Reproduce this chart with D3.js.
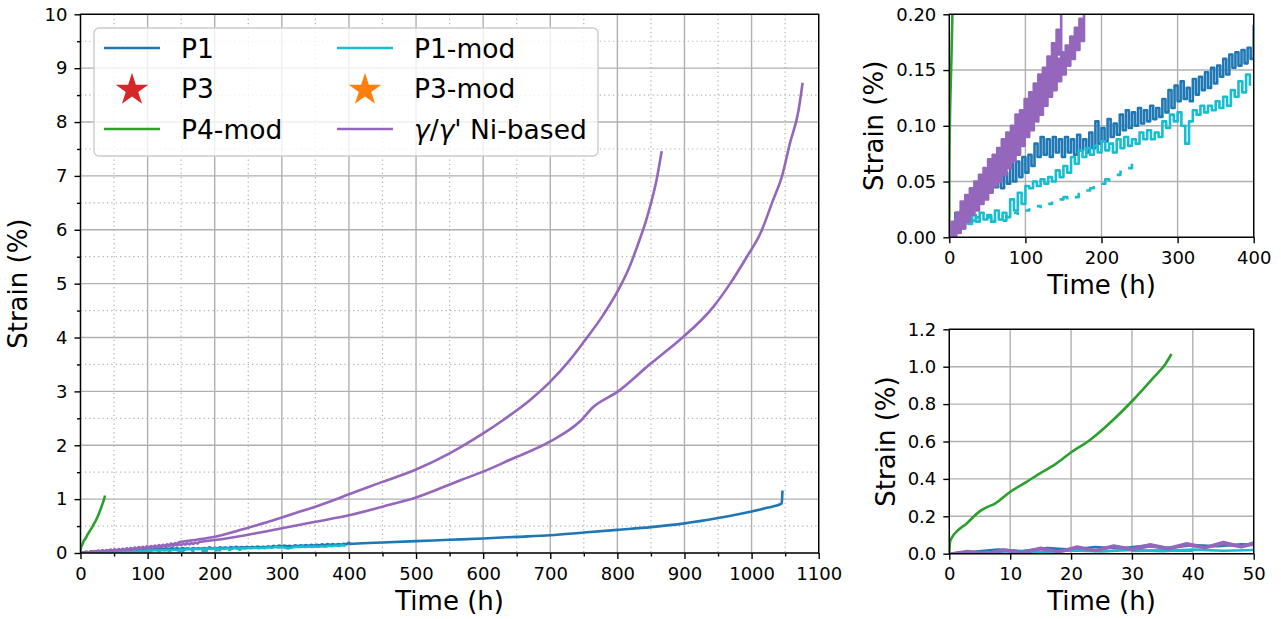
<!DOCTYPE html>
<html><head><meta charset="utf-8">
<script src="https://cdn.jsdelivr.net/npm/d3@7"></script>
<style>
body{margin:0;background:#fff}
svg{display:block}
text{font-family:"DejaVu Sans",sans-serif;fill:#000}
</style>
</head><body>
<svg id="c" width="1281" height="619"></svg>
<script>
// ---------------- DATA ----------------
// P1: dense part sampled every 4 h (0..396), then sparse points
const p1DenseStep = 4;
const p1Dense = [0.000,0.010,0.022,0.014,0.030,0.022,0.036,0.028,0.042,0.032,
  0.046,0.040,0.050,0.044,0.051,0.045,0.056,0.044,0.058,0.048,
  0.066,0.050,0.068,0.054,0.072,0.058,0.074,0.064,0.084,0.072,
  0.090,0.074,0.088,0.072,0.090,0.076,0.088,0.072,0.090,0.076,
  0.088,0.074,0.092,0.078,0.088,0.076,0.094,0.080,0.104,0.084,
  0.098,0.086,0.106,0.090,0.102,0.092,0.110,0.096,0.114,0.098,
  0.112,0.100,0.116,0.102,0.114,0.104,0.118,0.106,0.116,0.108,
  0.124,0.112,0.132,0.116,0.136,0.122,0.140,0.124,0.134,0.122,
  0.142,0.128,0.144,0.132,0.148,0.134,0.152,0.138,0.154,0.144,
  0.160,0.146,0.164,0.152,0.166,0.154,0.168,0.156,0.170,0.160];
const p1SparseT = [400,401,420,450,500,550,600,650,700,750,800,850,900,950,1000,1020,1045,1046];
const p1SparseS = [0.190,0.170,0.180,0.195,0.220,0.245,0.270,0.300,0.330,0.380,0.430,0.480,0.550,0.650,0.770,0.830,0.920,1.160];

// P1-mod test A: every 5 h (0..395)
const p1modAStep = 5;
const p1modA = [0.000,0.004,0.014,0.008,0.018,0.012,0.020,0.014,0.022,0.016,
  0.020,0.014,0.024,0.016,0.022,0.018,0.034,0.024,0.040,0.030,
  0.046,0.044,0.050,0.046,0.052,0.048,0.054,0.050,0.060,0.054,
  0.064,0.058,0.072,0.066,0.078,0.072,0.080,0.074,0.082,0.076,
  0.086,0.078,0.084,0.076,0.088,0.080,0.090,0.082,0.088,0.084,
  0.094,0.088,0.096,0.088,0.094,0.090,0.104,0.098,0.110,0.104,
  0.112,0.100,0.084,0.104,0.114,0.110,0.118,0.112,0.118,0.114,
  0.122,0.116,0.126,0.118,0.132,0.126,0.140,0.130,0.146,0.136];
// P1-mod test B: every 5 h (30..250), null = gap in record
const p1modBStart = 30, p1modBStep = 5;
const p1modB = [0.015,0.018,0.016,null,0.018,0.014,0.016,null,0.015,0.020,
  null,0.022,0.020,null,0.024,0.026,null,0.028,0.026,null,
  0.030,0.032,null,0.034,0.036,0.034,null,0.036,0.040,null,
  0.042,0.044,0.046,null,0.048,0.052,0.050,null,0.056,0.060,
  null,0.062,0.066,null,0.068];

// P4-mod
const p4modT = [0,0.1,0.5,0.93,2.85,5.04,6.1,7.5,9.97,12.5,14.9,17.5,19.8,23.1,26.9,30.2,33.5,35.5,36.5];
const p4modS = [0.000,0.060,0.090,0.109,0.162,0.228,0.248,0.268,0.330,0.380,0.430,0.480,0.537,0.608,0.715,0.822,0.940,1.015,1.068];

// gamma/gamma' Ni-based, test A: every 3 h (0..150), then sparse
const niAStep = 3;
const niADense = [0.000,0.014,0.002,0.022,0.008,0.032,0.012,0.038,0.018,0.044,
  0.026,0.050,0.030,0.056,0.034,0.062,0.040,0.070,0.046,0.074,
  0.052,0.080,0.058,0.088,0.064,0.094,0.070,0.100,0.080,0.110,
  0.086,0.114,0.094,0.124,0.102,0.130,0.108,0.138,0.114,0.146,
  0.124,0.152,0.132,0.162,0.140,0.174,0.150,0.186,0.164,0.204,0.210];
const niASparseT = [175,200,225,250,275,300,325,350,375,400,450,500,550,600,630,670,700,729,750,779,800,818,833,843,850,858,866];
const niASparseS = [0.25,0.30,0.38,0.47,0.56,0.66,0.76,0.86,0.97,1.09,1.32,1.55,1.85,2.22,2.47,2.84,3.18,3.58,3.92,4.42,4.85,5.31,5.81,6.18,6.49,6.90,7.46];

// gamma/gamma' Ni-based, test B: every 3 h (0..180), then sparse
const niBStep = 3;
const niBDense = [0.000,0.010,0.000,0.016,0.004,0.024,0.008,0.030,0.014,0.036,
  0.020,0.040,0.024,0.046,0.030,0.052,0.034,0.058,0.040,0.064,
  0.046,0.070,0.050,0.076,0.056,0.082,0.062,0.088,0.068,0.096,
  0.074,0.102,0.082,0.110,0.090,0.116,0.096,0.124,0.104,0.132,
  0.110,0.138,0.118,0.146,0.126,0.152,0.132,0.160,0.140,0.166,
  0.146,0.172,0.154,0.180,0.160,0.188,0.168,0.196,0.176,0.204,0.210];
const niBSparseT = [200,250,300,350,400,450,500,566,600,640,700,744,764,800,850,878,898,943,968,993,1013,1032,1045,1057,1070,1076];
const niBSparseS = [0.24,0.34,0.46,0.58,0.70,0.86,1.03,1.35,1.51,1.73,2.07,2.44,2.71,2.99,3.52,3.80,4.01,4.57,5.00,5.50,5.93,6.55,6.98,7.60,8.22,8.73];

// ticks
const mainXTicks = [0,100,200,300,400,500,600,700,800,900,1000,1100];
const mainYTicks = [0,1,2,3,4,5,6,7,8,9,10];
const mainXMinor = [50,150,250,350,450,550,650,750,850,950,1050];
const mainYMinor = [0.5,1.5,2.5,3.5,4.5,5.5,6.5,7.5,8.5,9.5];
const topXTicks = [0,100,200,300,400];
const topYTicks = [0,0.05,0.10,0.15,0.20];
const botXTicks = [0,10,20,30,40,50];
const botYTicks = [0,0.2,0.4,0.6,0.8,1.0,1.2];

const legendNames = ["P1","P3","P4-mod","P1-mod","P3-mod","γ/γ' Ni-based"];

// ---------------- build series ----------------
const C = {blue:"#1f77b4", red:"#d62728", green:"#2ca02c", cyan:"#17becf", orange:"#ff7f0e", purple:"#9467bd"};
function dense(start, step, vals){ return vals.map((v,i)=>({t:start+i*step, s:v})); }
function pairs(ts, ss){ return ts.map((t,i)=>({t:t, s:ss[i]})); }
const series = [
  {color:C.blue, noisy:true, pts: dense(0,p1DenseStep,p1Dense).concat(pairs(p1SparseT,p1SparseS))},
  {color:C.green, noisy:false, pts: pairs(p4modT,p4modS)},
  {color:C.cyan, noisy:true, pts: dense(0,p1modAStep,p1modA)},
  {color:C.cyan, noisy:true, pts: dense(p1modBStart,p1modBStep,p1modB)},
  {color:C.purple, noisy:true, pts: dense(0,niAStep,niADense).concat(pairs(niASparseT,niASparseS))},
  {color:C.purple, noisy:true, pts: dense(0,niBStep,niBDense).concat(pairs(niBSparseT,niBSparseS))}
];

const svg = d3.select('#c');
let clipId = 0;
function panel(o){
  const x = d3.scaleLinear().domain(o.xd).range([o.l,o.r]);
  const y = d3.scaleLinear().domain(o.yd).range([o.b,o.t]);
  const g = svg.append('g');
  const gridCol = "#b0b0b0";
  if(o.xMinor){
    g.selectAll(null).data(o.xMinor).join('line')
      .attr('x1',d=>x(d)).attr('x2',d=>x(d)).attr('y1',o.t).attr('y2',o.b)
      .attr('stroke',gridCol).attr('stroke-width',1.2).attr('stroke-dasharray','1.2,3.2');
    g.selectAll(null).data(o.yMinor).join('line')
      .attr('y1',d=>y(d)).attr('y2',d=>y(d)).attr('x1',o.l).attr('x2',o.r)
      .attr('stroke',gridCol).attr('stroke-width',1.2).attr('stroke-dasharray','1.2,3.2');
  }
  g.selectAll(null).data(o.xt).join('line')
    .attr('x1',d=>x(d)).attr('x2',d=>x(d)).attr('y1',o.t).attr('y2',o.b)
    .attr('stroke',gridCol).attr('stroke-width',1.4);
  g.selectAll(null).data(o.yt).join('line')
    .attr('y1',d=>y(d)).attr('y2',d=>y(d)).attr('x1',o.l).attr('x2',o.r)
    .attr('stroke',gridCol).attr('stroke-width',1.4);

  const id = 'clip'+(clipId++);
  svg.append('clipPath').attr('id',id).append('rect')
    .attr('x',o.l).attr('y',o.t).attr('width',o.r-o.l).attr('height',o.b-o.t);
  const dg = g.append('g').attr('clip-path',`url(#${id})`);
  series.forEach(sr=>{
    const curve = sr.noisy ? o.noisyCurve : d3.curveMonotoneX;
    const line = d3.line().defined(d=>d.s!==null).x(d=>x(d.t)).y(d=>y(d.s)).curve(curve);
    dg.append('path').attr('d',line(sr.pts)).attr('fill','none')
      .attr('stroke',sr.color).attr('stroke-width',2.6)
      .attr('stroke-linejoin','round').attr('stroke-linecap','butt');
  });

  // axes
  g.append('g').attr('transform',`translate(0,${o.b})`)
    .call(d3.axisBottom(x).tickValues(o.xt).tickFormat(o.xf).tickSize(6).tickPadding(8));
  g.append('g').attr('transform',`translate(${o.l},0)`)
    .call(d3.axisLeft(y).tickValues(o.yt).tickFormat(o.yf).tickSize(6).tickPadding(7));
  if(o.xMinor){
    g.append('g').attr('transform',`translate(0,${o.b})`)
      .call(d3.axisBottom(x).tickValues(o.xMinor).tickFormat('').tickSize(3.5));
    g.append('g').attr('transform',`translate(${o.l},0)`)
      .call(d3.axisLeft(y).tickValues(o.yMinor).tickFormat('').tickSize(3.5));
  }
  g.selectAll('.domain').remove();
  g.selectAll('.tick line').attr('stroke','#000').attr('stroke-width',1.4);
  g.selectAll('.tick text').attr('font-size',18).attr('font-family','"DejaVu Sans",sans-serif').attr('fill','#000');
  g.append('rect').attr('x',o.l).attr('y',o.t).attr('width',o.r-o.l).attr('height',o.b-o.t)
    .attr('fill','none').attr('stroke','#000').attr('stroke-width',1.4);
  // labels
  g.append('text').attr('x',(o.l+o.r)/2).attr('y',o.b+56.5).attr('text-anchor','middle')
    .attr('font-size',26).text('Time (h)');
  g.append('text').attr('transform',`translate(${o.ylx},${(o.t+o.b)/2}) rotate(-90)`)
    .attr('text-anchor','middle').attr('dy','0.36em').attr('font-size',26).text('Strain (%)');
  return {x,y,g};
}

panel({l:80.5,r:818.7,t:14.3,b:553,xd:[0,1100],yd:[0,10],xt:mainXTicks,yt:mainYTicks,
  xMinor:mainXMinor,yMinor:mainYMinor,xf:d3.format('d'),yf:d3.format('d'),noisyCurve:d3.curveMonotoneX,ylx:17.5});
panel({l:949.3,r:1253.7,t:14.3,b:237.3,xd:[0,400],yd:[0,0.2],xt:topXTicks,yt:topYTicks,
  xf:d3.format('d'),yf:d3.format('.2f'),noisyCurve:d3.curveStepAfter,ylx:874});
panel({l:949.3,r:1253.7,t:329.3,b:553.7,xd:[0,50],yd:[0,1.2],xt:botXTicks,yt:botYTicks,
  xf:d3.format('d'),yf:d3.format('.1f'),noisyCurve:d3.curveLinear,ylx:886});

// ---------------- legend ----------------
const lg = svg.append('g');
lg.append('rect').attr('x',94).attr('y',28).attr('width',504).attr('height',128).attr('rx',5)
  .attr('fill','#fff').attr('fill-opacity',0.8).attr('stroke','#cccccc').attr('stroke-width',1.4);
const legendItems = [
  {name:legendNames[0], color:C.blue, kind:'line', col:0,row:0},
  {name:legendNames[1], color:C.red, kind:'star', col:0,row:1},
  {name:legendNames[2], color:C.green, kind:'line', col:0,row:2},
  {name:legendNames[3], color:C.cyan, kind:'line', col:1,row:0},
  {name:legendNames[4], color:C.orange, kind:'star', col:1,row:1},
  {name:legendNames[5], color:C.purple, kind:'line', col:1,row:2}
];
const colX = [104, 337], rowY = [48, 88.5, 129], textX = [181, 414];
const star = d3.symbol().type(d3.symbolStar).size(330);
legendItems.forEach(it=>{
  const x0 = colX[it.col], yy = rowY[it.row];
  if(it.kind==='line'){
    lg.append('line').attr('x1',x0).attr('x2',x0+56).attr('y1',yy).attr('y2',yy)
      .attr('stroke',it.color).attr('stroke-width',2.6);
  } else {
    lg.append('path').attr('d',star()).attr('transform',`translate(${x0+28},${yy+1.5})`).attr('fill',it.color);
  }
  const t = lg.append('text').attr('x',textX[it.col]).attr('y',yy).attr('dy','0.36em').attr('font-size',26.5);
  if(it.name.startsWith('γ')){
    t.append('tspan').attr('font-style','italic').text('γ');
    t.append('tspan').text('/');
    t.append('tspan').attr('font-style','italic').text('γ');
    t.append('tspan').text(it.name.slice(3));
  } else t.text(it.name);
});
</script>
</body></html>
